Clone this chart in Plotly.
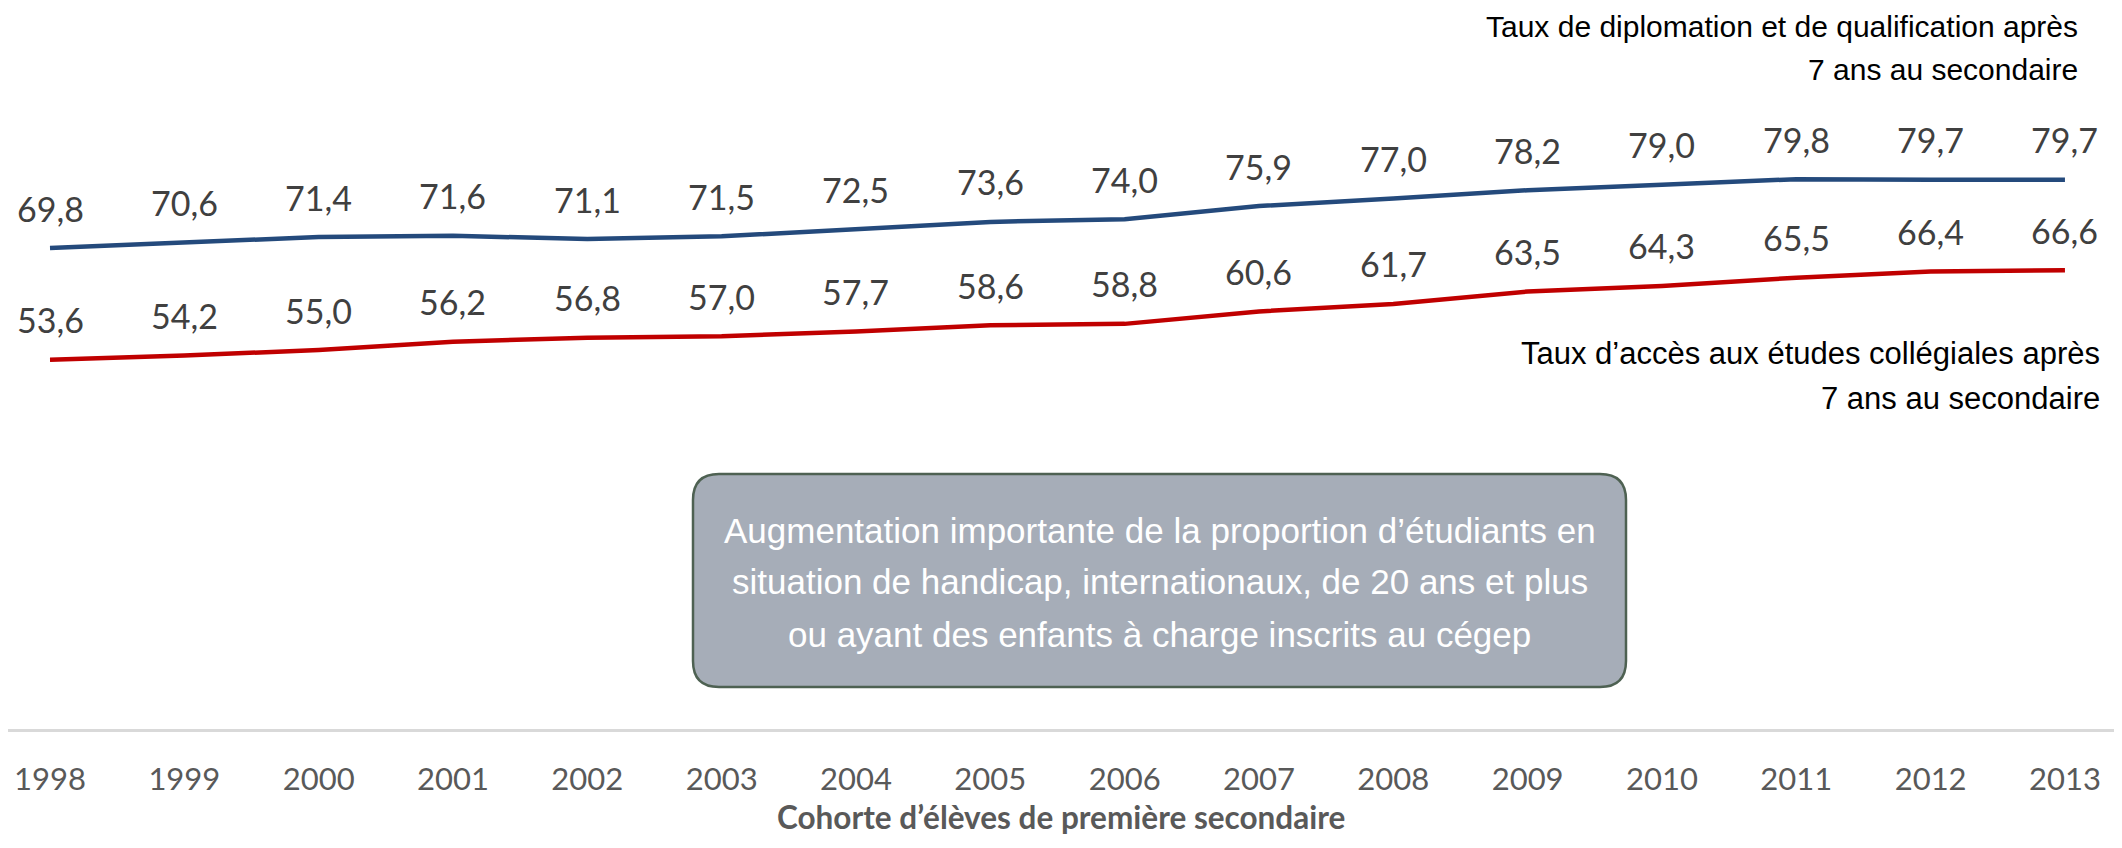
import plotly.graph_objects as go

# ---- Data ----
years = [1998, 1999, 2000, 2001, 2002, 2003, 2004, 2005, 2006, 2007, 2008, 2009, 2010, 2011, 2012, 2013]
tick_labels = [str(y) for y in years]
taux_diplomation = [69.8, 70.6, 71.4, 71.6, 71.1, 71.5, 72.5, 73.6, 74.0, 75.9, 77.0, 78.2, 79.0, 79.8, 79.7, 79.7]
taux_acces = [53.6, 54.2, 55.0, 56.2, 56.8, 57.0, 57.7, 58.6, 58.8, 60.6, 61.7, 63.5, 64.3, 65.5, 66.4, 66.6]

label_diplomation = ["Taux de diplomation et de qualification après", "7 ans au secondaire"]
label_acces = ["Taux d’accès aux études collégiales après", "7 ans au secondaire"]
box_text = ["Augmentation importante de la proportion d’étudiants en",
            "situation de handicap, internationaux, de 20 ans et plus",
            "ou ayant des enfants à charge inscrits au cégep"]
x_title = "Cohorte d’élèves de première secondaire"

# The page body has an 8px margin: the figure is drawn at (8, 8) inside the window.
VIEW_W, VIEW_H = 2122, 848
OFF = 8
W, H = VIEW_W - 2 * OFF, VIEW_H - 2 * OFF
AXIS_Y = 729 - OFF            # x-axis line (figure px)
M_B = H - AXIS_Y
PLOT_H = AXIS_Y
PX_PER_UNIT = 6.89
PX_PER_YEAR = 134.33


def fr(v):
    return f"{v:.1f}".replace(".", ",")


def px_to_paper(x, y):
    """Window pixel coordinates -> paper coordinates."""
    return (x - OFF) / W, (PLOT_H - (y - OFF)) / PLOT_H


BLUE = "#244A7C"
RED = "#C00000"
LATO = "Lato, 'Open Sans', sans-serif"
SANS = "'Liberation Sans', Arial, sans-serif"
LABEL_FONT = dict(family=LATO, size=34, color="#404040")

fig = go.Figure()
fig.add_trace(go.Scatter(x=years, y=taux_diplomation, mode="lines",
                         line=dict(color=BLUE, width=4.5), hoverinfo="skip",
                         showlegend=False))
fig.add_trace(go.Scatter(x=years, y=taux_acces, mode="lines",
                         line=dict(color=RED, width=4.5), hoverinfo="skip",
                         showlegend=False))

annotations = []
for series in (taux_diplomation, taux_acces):
    for x, v in zip(years, series):
        annotations.append(dict(x=x, y=v, xref="x", yref="y", text=fr(v),
                                showarrow=False, yanchor="middle", xanchor="center",
                                yshift=40, font=LABEL_FONT))


def add_lines(lines, x_px, ys_px, xanchor, size, color):
    for line, y_px in zip(lines, ys_px):
        a, b = px_to_paper(x_px, y_px)
        annotations.append(dict(x=a, y=b, xref="paper", yref="paper", text=line,
                                showarrow=False, xanchor=xanchor, yanchor="middle",
                                font=dict(family=SANS, size=size, color=color)))


# Series labels (right side)
add_lines(label_diplomation, 2080, [27, 70], "right", 30, "#000000")
add_lines(label_acces, 2102, [353, 398], "right", 31, "#000000")

# Rounded box
bx0, bx1, by0, by1, r = 693, 1626, 474, 687, 26


def P(x, y):
    a, b = px_to_paper(x, y)
    return f"{a:.6f},{b:.6f}"


path = (f"M {P(bx0 + r, by0)} L {P(bx1 - r, by0)} Q {P(bx1, by0)} {P(bx1, by0 + r)} "
        f"L {P(bx1, by1 - r)} Q {P(bx1, by1)} {P(bx1 - r, by1)} "
        f"L {P(bx0 + r, by1)} Q {P(bx0, by1)} {P(bx0, by1 - r)} "
        f"L {P(bx0, by0 + r)} Q {P(bx0, by0)} {P(bx0 + r, by0)} Z")
shapes = [dict(type="path", path=path, xref="paper", yref="paper",
               fillcolor="#A6ADB8", line=dict(color="#4E6152", width=2.5), layer="below")]

add_lines(box_text, (bx0 + bx1) / 2, [530, 581, 634], "center", 35, "#FFFFFF")

# Axis title
a, b = px_to_paper(VIEW_W / 2, 817)
annotations.append(dict(x=a, y=b, xref="paper", yref="paper", text=f"<b>{x_title}</b>",
                        showarrow=False, xanchor="center", yanchor="middle",
                        font=dict(family=LATO, size=31.5, color="#595959")))

x0 = 1998 - (50 - OFF) / PX_PER_YEAR
x1 = x0 + W / PX_PER_YEAR

fig.update_layout(
    width=W, height=H,
    margin=dict(l=0, r=0, t=0, b=M_B, pad=0, autoexpand=False),
    paper_bgcolor="white", plot_bgcolor="white",
    xaxis=dict(range=[x0, x1], tickvals=years, ticktext=tick_labels, showgrid=False,
               zeroline=False, showline=True, linecolor="#D9D9D9", linewidth=2.5,
               ticks="", automargin=False, ticklabelstandoff=21,
               tickfont=dict(family=LATO, size=31, color="#595959"),
               fixedrange=True),
    yaxis=dict(range=[0, PLOT_H / PX_PER_UNIT], visible=False, showgrid=False, zeroline=False,
               automargin=False, fixedrange=True),
    annotations=annotations,
    shapes=shapes,
)

fig.write_html("out.html")
